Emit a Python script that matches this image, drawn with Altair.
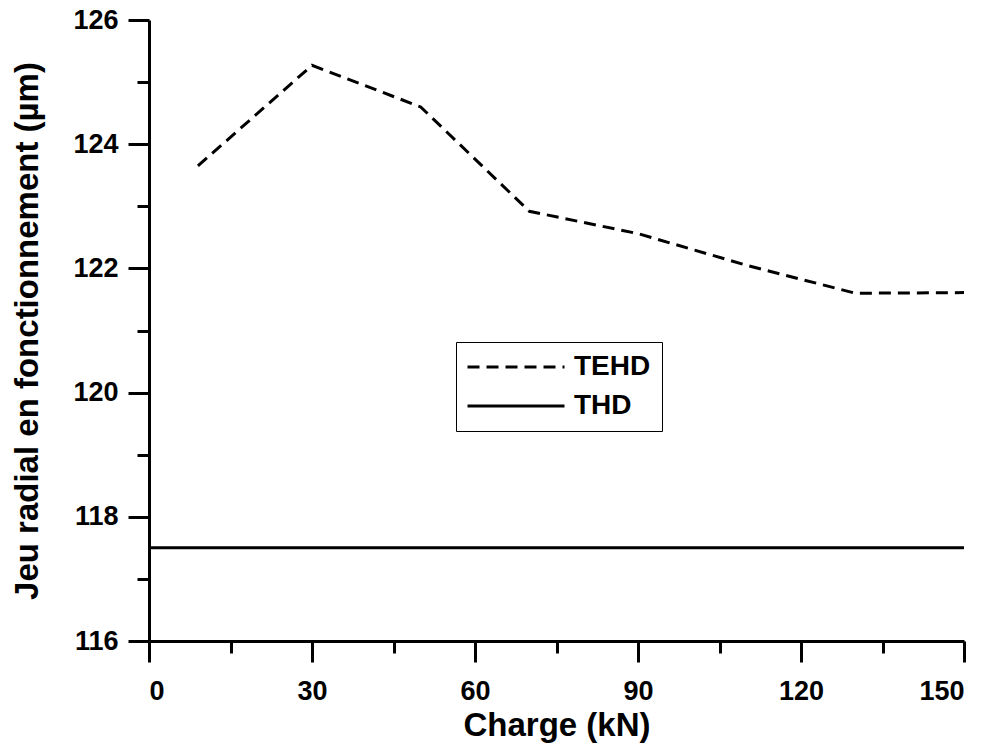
import altair as alt
import pandas as pd

# TEHD series (charge in kN, operating radial clearance in µm)
tehd_x = [9, 30, 50, 70, 90, 110, 130, 150]
tehd_y = [123.65, 125.27, 124.6, 122.92, 122.56, 122.05, 121.6, 121.61]
# THD series (constant)
thd_x = [0, 150]
thd_y = [117.5, 117.5]

series_names = ["TEHD", "THD"]
x_ticks = [0, 15, 30, 45, 60, 75, 90, 105, 120, 135, 150]
y_ticks = [116, 117, 118, 119, 120, 121, 122, 123, 124, 125, 126]

rows = []
for xv, yv in zip(tehd_x, tehd_y):
    rows.append({"x": xv, "y": yv, "s": series_names[0]})
for xv, yv in zip(thd_x, thd_y):
    rows.append({"x": xv, "y": yv, "s": series_names[1]})
df = pd.DataFrame(rows)

FONT = "Liberation Sans"

x_axis = alt.Axis(
    values=x_ticks,
    labelExpr="datum.value % 30 === 0 ? datum.label : ''",
    tickSize={"condition": {"test": "datum.value % 30 === 0", "value": 21}, "value": 12},
    labelPadding=16,
    title="Charge (kN)",
    titlePadding=5,
    grid=False,
)
y_axis = alt.Axis(
    values=y_ticks,
    labelExpr="datum.value % 2 === 0 ? datum.label : ''",
    tickSize={"condition": {"test": "datum.value % 2 === 0", "value": 21}, "value": 12},
    labelPadding=10,
    title="Jeu radial en fonctionnement (µm)",
    titlePadding=28,
    grid=False,
)

chart = (
    alt.Chart(df)
    .mark_line(strokeWidth=3, color="black", clip=False)
    .encode(
        x=alt.X("x:Q", scale=alt.Scale(domain=[0, 150], nice=False, zero=False), axis=x_axis),
        y=alt.Y("y:Q", scale=alt.Scale(domain=[116, 126], nice=False, zero=False), axis=y_axis),
        strokeDash=alt.StrokeDash(
            "s:N",
            scale=alt.Scale(domain=series_names, range=[[12, 7], [1, 0]]),
            legend=alt.Legend(
                title=None,
                orient="none",
                legendX=307,
                legendY=322,
                padding=11,
                rowPadding=11,
                strokeColor="black",
                fillColor="white",
                cornerRadius=0,
                symbolType="M-1.42,0H8.79",
                symbolSize=361,
                symbolStrokeWidth=3,
                symbolStrokeColor="black",
                labelOffset=79,
                labelFont=FONT,
                labelFontSize=28,
                labelFontWeight="bold",
                labelColor="black",
                labelBaseline="middle",
            ),
        ),
        detail="s:N",
    )
    .properties(
        width=815,
        height=621,
        autosize=alt.AutoSizeParams(type="none"),
        padding={"left": 141, "top": 12, "right": 18, "bottom": 102},
        background="white",
    )
    .configure_view(stroke=None)
    .configure_axis(
        domainColor="black",
        domainWidth=3,
        tickColor="black",
        tickWidth=3,
        labelFont=FONT,
        labelFontSize=27,
        labelFontWeight="bold",
        labelColor="black",
        titleFont=FONT,
        titleFontSize=33,
        titleFontWeight="bold",
        titleColor="black",
    )
)

chart.save("out.html", embed_options={"renderer": "svg", "actions": False})
